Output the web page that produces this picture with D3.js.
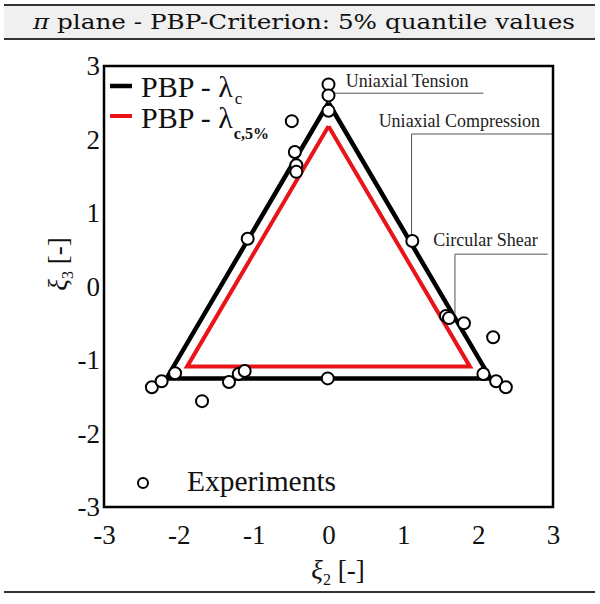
<!DOCTYPE html>
<html><head><meta charset="utf-8">
<script src="https://cdn.jsdelivr.net/npm/d3@7"></script>
<style>body{margin:0;background:#fff}svg{display:block}</style>
</head><body>
<svg id="c" width="600" height="604"></svg>
<script>
// ---- data ----
const titleSymbol = "π";
const titleRest = " plane - PBP-Criterion: 5% quantile values";
const xTicks = [-3, -2, -1, 0, 1, 2, 3];
const yTicks = [-3, -2, -1, 0, 1, 2, 3];
const triBlackXi2 = [0, 2.165, -2.165, 0];
const triBlackXi3 = [2.5, -1.25, -1.25, 2.5];
const triRedXi2 = [0, 1.89, -1.89, 0];
const triRedXi3 = [2.18, -1.09, -1.09, 2.18];
const expXi2 = [0, 0, 0, -0.49, -0.45, -0.43, -0.43, -1.08, 1.12, 1.57, 1.61, 1.81, 2.2, 2.07, 2.24, 2.37,
                -2.36, -2.23, -2.05, -1.69, -1.33, -1.2, -1.12, -0.01];
const expXi3 = [2.75, 2.6, 2.39, 2.25, 1.83, 1.65, 1.56, 0.65, 0.62, -0.40, -0.43, -0.50, -0.69, -1.19, -1.29, -1.37,
                -1.37, -1.29, -1.18, -1.56, -1.30, -1.19, -1.15, -1.25];
const annLabels = ["Uniaxial Tension", "Uniaxial Compression", "Circular Shear"];
const annTextXi2 = [0.23, 0.67, 1.40];
const annTextXi3 = [2.71, 2.17, 0.55];
// leader lines: start point (at marker), corner, end
const annLeaderXi2 = [[0.07, 0.07, 2.07], [1.11, 1.11, 3.0], [1.69, 1.69, 2.93]];
const annLeaderXi3 = [[2.63, 2.63, 2.63], [0.70, 2.075, 2.075], [-0.37, 0.44, 0.44]];

// ---- layout ----
const svg = d3.select("#c");
const L = 104, R = 553, T = 66, B = 507;
const x = d3.scaleLinear().domain([-3, 3]).range([L, R]);
const y = d3.scaleLinear().domain([-3, 3]).range([B, T]);
const serif = "'Liberation Serif','Times New Roman',serif";

// title band
svg.append("rect").attr("x", 4).attr("y", 5).attr("width", 591).attr("height", 34).attr("fill", "#f0f0f0");
svg.append("line").attr("x1", 4).attr("x2", 595).attr("y1", 5).attr("y2", 5).attr("stroke", "#333").attr("stroke-width", 2);
svg.append("line").attr("x1", 4).attr("x2", 595).attr("y1", 39).attr("y2", 39).attr("stroke", "#333").attr("stroke-width", 2);
svg.append("line").attr("x1", 4).attr("x2", 595).attr("y1", 592).attr("y2", 592).attr("stroke", "#333").attr("stroke-width", 2);
const tt = svg.append("text").attr("x", 33).attr("y", 29).attr("font-family", "'DejaVu Serif',serif").attr("font-size", 21)
  .attr("textLength", 542).attr("lengthAdjust", "spacingAndGlyphs").attr("fill", "#111");
tt.append("tspan").attr("font-style", "italic").text(titleSymbol);
tt.append("tspan").text(titleRest);

// axes (labels only)
const fmt = d => String(d);
const gx = svg.append("g").attr("transform", `translate(0,${B})`)
  .call(d3.axisBottom(x).tickValues(xTicks).tickSize(0).tickPadding(18).tickFormat(fmt));
gx.select(".domain").remove();
gx.selectAll("text").attr("font-family", serif).attr("font-size", 27).attr("fill", "#111");
const gy = svg.append("g").attr("transform", `translate(${L},0)`)
  .call(d3.axisLeft(y).tickValues(yTicks).tickSize(0).tickPadding(4).tickFormat(fmt));
gy.select(".domain").remove();
gy.selectAll("text").attr("font-family", serif).attr("font-size", 27).attr("fill", "#111");

// axis titles
const xl = svg.append("text").attr("x", 338).attr("y", 579).attr("text-anchor", "middle")
  .attr("font-family", serif).attr("font-size", 27).attr("fill", "#111");
xl.append("tspan").attr("font-style", "italic").text("ξ");
xl.append("tspan").attr("font-size", 16).attr("dy", 6).text("2");
xl.append("tspan").attr("dy", -6).text(" [-]");
const yl = svg.append("text").attr("transform", "translate(67,264) rotate(-90)").attr("text-anchor", "middle")
  .attr("font-family", serif).attr("font-size", 27).attr("fill", "#111");
yl.append("tspan").attr("font-style", "italic").text("ξ");
yl.append("tspan").attr("font-size", 16).attr("dy", 6).text("3");
yl.append("tspan").attr("dy", -6).text(" [-]");

// triangles
const line = d3.line().x(d => x(d[0])).y(d => y(d[1]));
const blackPts = triBlackXi2.map((v, i) => [v, triBlackXi3[i]]);
const redPts = triRedXi2.map((v, i) => [v, triRedXi3[i]]);
svg.append("path").attr("d", line(blackPts)).attr("fill", "none").attr("stroke", "#000").attr("stroke-width", 4.5).attr("stroke-linejoin", "miter");
svg.append("path").attr("d", line(redPts)).attr("fill", "none").attr("stroke", "#e8141a").attr("stroke-width", 4).attr("stroke-linejoin", "miter");

// annotations leaders
annLabels.forEach((lab, i) => {
  const pts = annLeaderXi2[i].map((v, j) => [v, annLeaderXi3[i][j]]);
  svg.append("path").attr("d", line(pts)).attr("fill", "none").attr("stroke", "#555").attr("stroke-width", 1);
  svg.append("text").attr("x", x(annTextXi2[i])).attr("y", y(annTextXi3[i]))
    .attr("font-family", serif).attr("font-size", 18).attr("fill", "#222").text(lab);
});

// experiments
svg.append("g").selectAll("circle").data(expXi2.map((v, i) => [v, expXi3[i]])).join("circle")
  .attr("cx", d => x(d[0])).attr("cy", d => y(d[1])).attr("r", 6)
  .attr("fill", "#fff").attr("stroke", "#000").attr("stroke-width", 2);

// frame
svg.append("rect").attr("x", L).attr("y", T).attr("width", R - L).attr("height", B - T)
  .attr("fill", "none").attr("stroke", "#000").attr("stroke-width", 2.5);

// legend
const lg = svg.append("g");
lg.append("line").attr("x1", 110).attr("x2", 132).attr("y1", 86).attr("y2", 86).attr("stroke", "#000").attr("stroke-width", 4.5);
lg.append("line").attr("x1", 110).attr("x2", 132).attr("y1", 116).attr("y2", 116).attr("stroke", "#e8141a").attr("stroke-width", 4);
const t1 = lg.append("text").attr("x", 141).attr("y", 97).attr("font-family", serif).attr("font-size", 30).attr("fill", "#111");
t1.append("tspan").text("PBP - λ");
t1.append("tspan").attr("font-size", 17).attr("dy", 7).attr("dx", 2).text("c");
const t2 = lg.append("text").attr("x", 141).attr("y", 128).attr("font-family", serif).attr("font-size", 30).attr("fill", "#111");
t2.append("tspan").text("PBP - λ");
t2.append("tspan").attr("font-size", 16).attr("font-weight", "bold").attr("dy", 11).attr("dx", 1).text("c,5%");
lg.append("circle").attr("cx", 143).attr("cy", 483).attr("r", 5).attr("fill", "#fff").attr("stroke", "#000").attr("stroke-width", 2);
lg.append("text").attr("x", 187).attr("y", 491).attr("font-family", serif).attr("font-size", 29.5).attr("fill", "#111").text("Experiments");
</script>
</body></html>
